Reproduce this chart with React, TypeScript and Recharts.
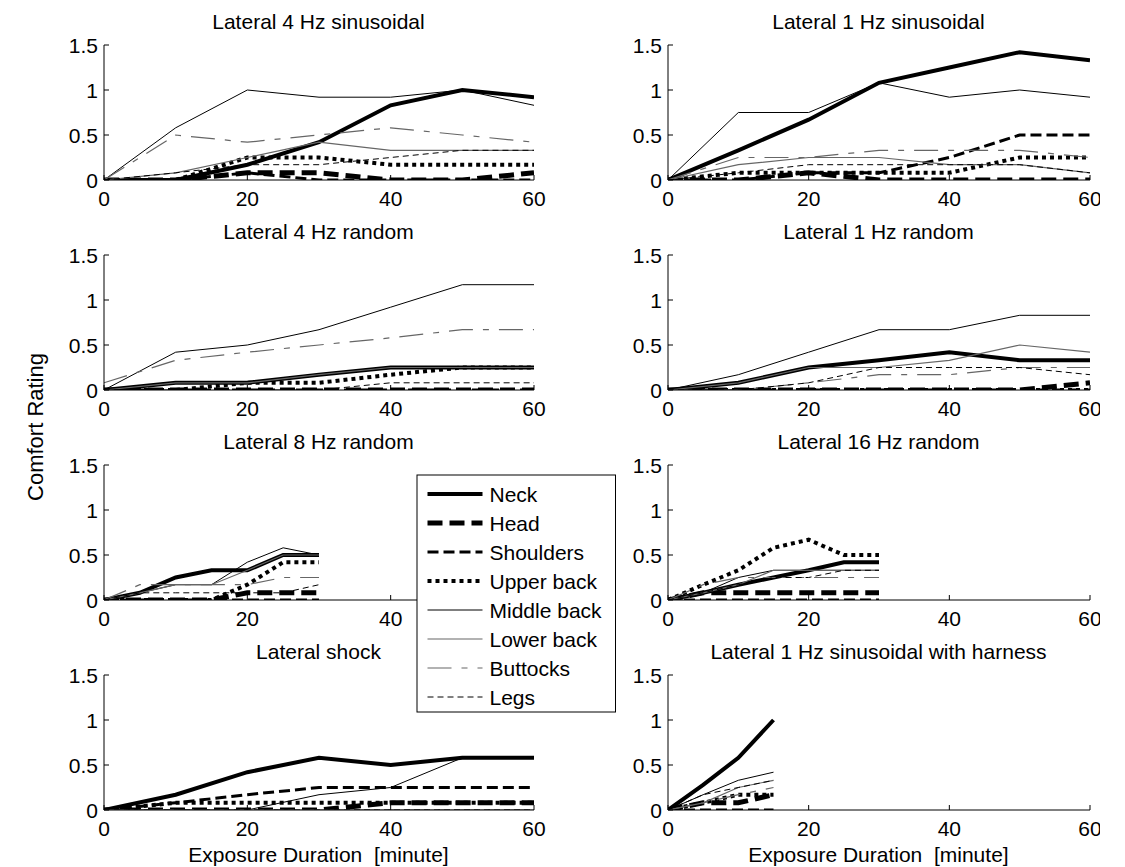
import React from 'react';
import { LineChart, Line, XAxis, YAxis } from 'recharts';

const FONT = '"Liberation Sans", Arial, Helvetica, sans-serif';
const FONT_SIZE = 21;

// Body parts, in plotting / legend order
const BODY_PARTS = ['Neck', 'Head', 'Shoulders', 'Upper back', 'Middle back', 'Lower back', 'Buttocks', 'Legs'];
const PART_KEYS = ['neck', 'head', 'shoulders', 'upperBack', 'middleBack', 'lowerBack', 'buttocks', 'legs'];

// Line style per body part
const PART_STYLES: { stroke: string; width: number; dash?: string }[] = [
  { stroke: '#000', width: 4 },
  { stroke: '#000', width: 5, dash: '15 7' },
  { stroke: '#000', width: 3, dash: '11 5' },
  { stroke: '#000', width: 4, dash: '4 4' },
  { stroke: '#000', width: 1 },
  { stroke: '#666', width: 1.2 },
  { stroke: '#666', width: 1.2, dash: '24 10 6 10' },
  { stroke: '#000', width: 1, dash: '6 4' },
];

// Exposure times [minute]
const minutesLong = [0, 10, 20, 30, 40, 50, 60];
const minutesShort = [0, 5, 10, 15, 20, 25, 30];
const minutesHarness = [0, 5, 10, 15];

// Ratings: one row per body part (Neck ... Legs)
const lateral4HzSinusoidal = [
  [0, 0, 0.17, 0.42, 0.83, 1.0, 0.92],
  [0, 0, 0.08, 0.08, 0, 0, 0.08],
  [0, 0, 0.08, 0, 0, 0, 0],
  [0, 0, 0.25, 0.25, 0.17, 0.17, 0.17],
  [0, 0.58, 1.0, 0.92, 0.92, 1.0, 0.83],
  [0, 0.08, 0.25, 0.42, 0.33, 0.33, 0.33],
  [0, 0.5, 0.42, 0.5, 0.58, 0.5, 0.42],
  [0, 0.08, 0.17, 0.17, 0.25, 0.33, 0.33],
];

const lateral1HzSinusoidal = [
  [0, 0.33, 0.67, 1.08, 1.25, 1.42, 1.33],
  [0, 0, 0.08, 0, 0, 0, 0],
  [0, 0, 0.08, 0.08, 0.25, 0.5, 0.5],
  [0, 0.08, 0.08, 0.08, 0.08, 0.25, 0.25],
  [0, 0.75, 0.75, 1.08, 0.92, 1.0, 0.92],
  [0, 0.17, 0.25, 0.25, 0.17, 0.17, 0.08],
  [0, 0.25, 0.25, 0.33, 0.33, 0.33, 0.25],
  [0, 0.08, 0.17, 0.17, 0.17, 0.17, 0.08],
];

const lateral4HzRandom = [
  [0, 0.08, 0.08, 0.17, 0.25, 0.25, 0.25],
  [0, 0, 0, 0, 0, 0, 0],
  [0, 0, 0, 0, 0, 0, 0],
  [0, 0, 0.08, 0.08, 0.17, 0.25, 0.25],
  [0, 0.42, 0.5, 0.67, 0.92, 1.17, 1.17],
  [0, 0.08, 0.08, 0.17, 0.25, 0.25, 0.25],
  [0.08, 0.33, 0.42, 0.5, 0.58, 0.67, 0.67],
  [0, 0, 0, 0, 0.08, 0.08, 0.08],
];

const lateral1HzRandom = [
  [0, 0.08, 0.25, 0.33, 0.42, 0.33, 0.33],
  [0, 0, 0, 0, 0, 0, 0.08],
  [0, 0, 0, 0, 0, 0, 0],
  [0, 0, 0, 0, 0, 0, 0],
  [0, 0.17, 0.42, 0.67, 0.67, 0.83, 0.83],
  [0, 0.08, 0.25, 0.25, 0.33, 0.5, 0.42],
  [0, 0, 0.08, 0.17, 0.17, 0.25, 0.25],
  [0, 0, 0.08, 0.25, 0.25, 0.25, 0.17],
];

const lateral8HzRandom = [
  [0, 0.08, 0.25, 0.33, 0.33, 0.5, 0.5],
  [0, 0, 0, 0, 0.08, 0.08, 0.08],
  [0, 0, 0, 0, 0, 0, 0],
  [0, 0, 0, 0, 0.17, 0.42, 0.42],
  [0, 0.08, 0.17, 0.17, 0.42, 0.58, 0.5],
  [0, 0.08, 0.17, 0.17, 0.33, 0.5, 0.5],
  [0, 0.17, 0.17, 0.17, 0.17, 0.25, 0.25],
  [0, 0.08, 0.08, 0.08, 0.08, 0.08, 0.17],
];

const lateral16HzRandom = [
  [0, 0.08, 0.17, 0.25, 0.33, 0.42, 0.42],
  [0, 0.08, 0.08, 0.08, 0.08, 0.08, 0.08],
  [0, 0, 0, 0, 0, 0, 0],
  [0, 0.17, 0.33, 0.58, 0.67, 0.5, 0.5],
  [0, 0.08, 0.25, 0.33, 0.33, 0.33, 0.33],
  [0, 0.08, 0.17, 0.33, 0.33, 0.33, 0.33],
  [0, 0.17, 0.25, 0.25, 0.25, 0.25, 0.25],
  [0, 0.08, 0.17, 0.25, 0.25, 0.33, 0.33],
];

const lateralShock = [
  [0, 0.17, 0.42, 0.58, 0.5, 0.58, 0.58],
  [0, 0, 0, 0, 0.08, 0.08, 0.08],
  [0, 0.08, 0.17, 0.25, 0.25, 0.25, 0.25],
  [0, 0.08, 0.08, 0.08, 0.08, 0.08, 0.08],
  [0, 0, 0, 0.17, 0.25, 0.58, 0.58],
  [0, 0, 0, 0, 0, 0, 0],
  [0, 0, 0, 0, 0, 0, 0],
  [0, 0, 0, 0, 0, 0, 0],
];

const lateral1HzHarness = [
  [0, 0.28, 0.58, 1.0],
  [0, 0.08, 0.08, 0.17],
  [0, 0, 0, 0],
  [0, 0.08, 0.17, 0.17],
  [0, 0.17, 0.33, 0.42],
  [0, 0.08, 0.25, 0.33],
  [0, 0.08, 0.17, 0.25],
  [0, 0.17, 0.25, 0.33],
];

const X_TICKS = [0, 20, 40, 60];
const Y_TICKS = [0, 0.5, 1, 1.5];

// coveredTick: an x tick label that sits underneath the legend box
const PANELS = [
  { title: 'Lateral 4 Hz sinusoidal', minutes: minutesLong, ratings: lateral4HzSinusoidal, row: 0, col: 0 },
  { title: 'Lateral 1 Hz sinusoidal', minutes: minutesLong, ratings: lateral1HzSinusoidal, row: 0, col: 1 },
  { title: 'Lateral 4 Hz random', minutes: minutesLong, ratings: lateral4HzRandom, row: 1, col: 0 },
  { title: 'Lateral 1 Hz random', minutes: minutesLong, ratings: lateral1HzRandom, row: 1, col: 1 },
  { title: 'Lateral 8 Hz random', minutes: minutesShort, ratings: lateral8HzRandom, row: 2, col: 0, coveredTick: 60 },
  { title: 'Lateral 16 Hz random', minutes: minutesShort, ratings: lateral16HzRandom, row: 2, col: 1 },
  { title: 'Lateral shock', minutes: minutesLong, ratings: lateralShock, row: 3, col: 0 },
  { title: 'Lateral 1 Hz sinusoidal with harness', minutes: minutesHarness, ratings: lateral1HzHarness, row: 3, col: 1 },
];

// Layout of the plot boxes
const COL_LEFT = [103.5, 667.5];
const COL_WIDTH = [430, 422];
const ROW_TOP = [45, 255, 465, 675];
const PLOT_H = 135;
const Y_AXIS_W = 60;
const X_AXIS_H = 40;
const TOP_PAD = 10;
const RIGHT_PAD = 20;

const textStyle = { fontFamily: FONT, fontSize: FONT_SIZE, fill: '#000' };

const makeBottomTick = (coveredTick?: number) => (props: any) => {
  const { x, y, payload } = props;
  return (
    <g>
      <line x1={x} x2={x} y1={y} y2={y - 5} stroke="#000" strokeWidth={1} />
      {payload.value !== coveredTick && (
        <text x={x} y={y + 26} textAnchor="middle" style={textStyle}>{payload.value}</text>
      )}
    </g>
  );
};

const LeftTick = (props: any) => {
  const { x, y, payload } = props;
  return (
    <g>
      <line x1={x} x2={x + 5} y1={y} y2={y} stroke="#000" strokeWidth={1} />
      <text x={x - 6} y={y + 7.5} textAnchor="end" style={textStyle}>{payload.value}</text>
    </g>
  );
};

const TopTick = (props: any) => {
  const { x, y } = props;
  return <line x1={x} x2={x} y1={y} y2={y + 5} stroke="#000" strokeWidth={1} />;
};

const RightTick = (props: any) => {
  const { x, y } = props;
  return <line x1={x} x2={x - 5} y1={y} y2={y} stroke="#000" strokeWidth={1} />;
};

function buildRows(minutes: number[], ratings: number[][]) {
  return minutes.map((m, i) => {
    const row: Record<string, number> = { minute: m };
    PART_KEYS.forEach((k, p) => {
      row[k] = ratings[p][i];
    });
    return row;
  });
}

function Panel({
  minutes,
  ratings,
  row,
  col,
  coveredTick,
}: {
  minutes: number[];
  ratings: number[][];
  row: number;
  col: number;
  coveredTick?: number;
}) {
  const plotW = COL_WIDTH[col];
  const data = buildRows(minutes, ratings);
  return (
    <div style={{ position: 'absolute', left: COL_LEFT[col] - Y_AXIS_W, top: ROW_TOP[row] - TOP_PAD }}>
      <LineChart
        width={Y_AXIS_W + plotW + RIGHT_PAD}
        height={TOP_PAD + PLOT_H + X_AXIS_H}
        data={data}
        margin={{ top: TOP_PAD, right: RIGHT_PAD, bottom: 0, left: 0 }}
      >
        <XAxis
          xAxisId="bottom"
          dataKey="minute"
          type="number"
          domain={[0, 60]}
          ticks={X_TICKS}
          interval={0}
          allowDataOverflow
          height={X_AXIS_H}
          tickSize={0}
          tickMargin={0}
          tickLine={false}
          axisLine={{ stroke: '#000', strokeWidth: 1 }}
          tick={makeBottomTick(coveredTick)}
        />
        <XAxis
          xAxisId="top"
          orientation="top"
          dataKey="minute"
          type="number"
          domain={[0, 60]}
          ticks={[20, 40]}
          interval={0}
          allowDataOverflow
          height={0}
          tickSize={0}
          tickMargin={0}
          tickLine={false}
          axisLine={{ stroke: '#000', strokeWidth: 1 }}
          tick={TopTick}
        />
        <YAxis
          yAxisId="left"
          type="number"
          domain={[0, 1.5]}
          ticks={Y_TICKS}
          interval={0}
          allowDataOverflow
          width={Y_AXIS_W}
          tickSize={0}
          tickMargin={0}
          tickLine={false}
          axisLine={{ stroke: '#000', strokeWidth: 1 }}
          tick={LeftTick}
        />
        <YAxis
          yAxisId="right"
          orientation="right"
          type="number"
          domain={[0, 1.5]}
          ticks={[0.5, 1]}
          interval={0}
          allowDataOverflow
          width={0}
          tickSize={0}
          tickMargin={0}
          tickLine={false}
          axisLine={{ stroke: '#000', strokeWidth: 1 }}
          tick={RightTick}
        />
        {PART_KEYS.map((k, p) => (
          <Line
            key={k}
            xAxisId="bottom"
            yAxisId="left"
            dataKey={k}
            name={BODY_PARTS[p]}
            type="linear"
            stroke={PART_STYLES[p].stroke}
            strokeWidth={PART_STYLES[p].width}
            strokeDasharray={PART_STYLES[p].dash}
            dot={false}
            activeDot={false}
            isAnimationActive={false}
          />
        ))}
      </LineChart>
    </div>
  );
}

// Legend box geometry
const LEGEND = { left: 416.5, top: 475, right: 615, bottom: 712, firstY: 494, step: 29, lineX1: 427, lineX2: 482, textX: 489 };

function BodyPartLegend() {
  const w = LEGEND.right - LEGEND.left;
  const h = LEGEND.bottom - LEGEND.top;
  return (
    <svg
      width={w + 2}
      height={h + 2}
      style={{ position: 'absolute', left: LEGEND.left - 1, top: LEGEND.top - 1 }}
    >
      <g transform={`translate(${1 - LEGEND.left}, ${1 - LEGEND.top})`}>
        <rect x={LEGEND.left} y={LEGEND.top} width={w} height={h} fill="#fff" stroke="#000" strokeWidth={1} />
        {BODY_PARTS.map((name, p) => {
          const y = LEGEND.firstY + p * LEGEND.step;
          const s = PART_STYLES[p];
          return (
            <g key={name}>
              <line
                x1={LEGEND.lineX1}
                x2={LEGEND.lineX2}
                y1={y}
                y2={y}
                stroke={s.stroke}
                strokeWidth={s.width}
                strokeDasharray={s.dash}
              />
              <text x={LEGEND.textX} y={y + 7.5} style={textStyle}>{name}</text>
            </g>
          );
        })}
      </g>
    </svg>
  );
}

export default function App() {
  return (
    <div
      style={{
        position: 'absolute',
        left: 0,
        top: 0,
        width: 1100,
        height: 867,
        overflow: 'hidden',
        background: '#fff',
      }}
    >
      {PANELS.map((p) => (
        <Panel
          key={p.title}
          minutes={p.minutes}
          ratings={p.ratings}
          row={p.row}
          col={p.col}
          coveredTick={p.coveredTick}
        />
      ))}
      <svg width={1100} height={867} style={{ position: 'absolute', left: 0, top: 0, pointerEvents: 'none' }}>
        {PANELS.map((p) => (
          <text
            key={p.title}
            x={COL_LEFT[p.col] + COL_WIDTH[p.col] / 2}
            y={ROW_TOP[p.row] - 16}
            textAnchor="middle"
            style={textStyle}
          >
            {p.title}
          </text>
        ))}
        {[0, 1].map((c) => (
          <text
            key={c}
            x={COL_LEFT[c] + COL_WIDTH[c] / 2}
            y={862}
            textAnchor="middle"
            style={{ ...textStyle, whiteSpace: 'pre' }}
          >
            {'Exposure Duration  [minute]'}
          </text>
        ))}
        <text
          x={43}
          y={427}
          transform="rotate(-90, 43, 427)"
          textAnchor="middle"
          style={{ ...textStyle, fontSize: 22 }}
        >
          Comfort Rating
        </text>
      </svg>
      <BodyPartLegend />
    </div>
  );
}
